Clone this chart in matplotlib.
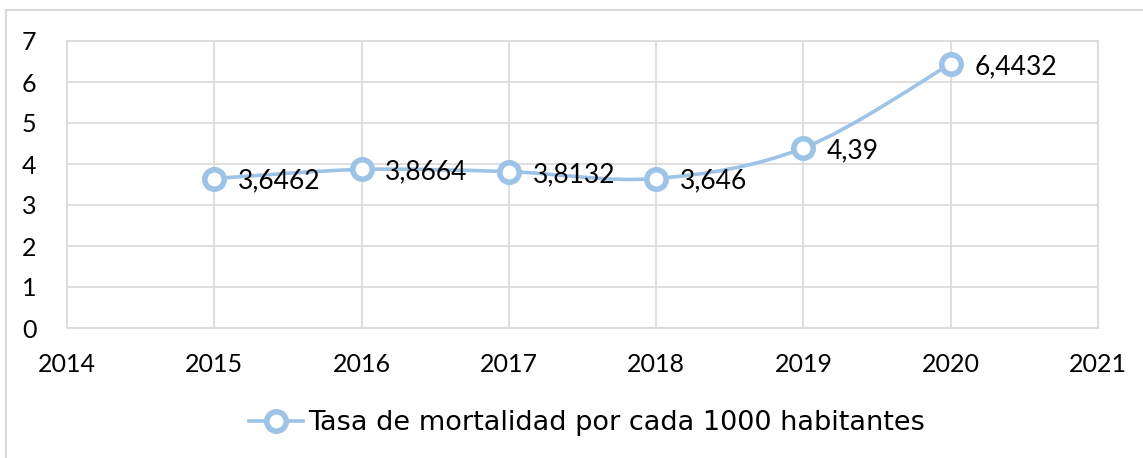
import matplotlib.pyplot as plt
from matplotlib.path import Path
from matplotlib.patches import PathPatch, Rectangle
from matplotlib.lines import Line2D

years = [2015, 2016, 2017, 2018, 2019, 2020]
tasa = [3.6462, 3.8664, 3.8132, 3.646, 4.39, 6.4432]
labels = ["3,6462", "3,8664", "3,8132", "3,646", "4,39", "6,4432"]
serie = "Tasa de mortalidad por cada 1000 habitantes"

azul = "#9DC3E6"
gris = "#D9D9D9"
plt.rcParams['font.family'] = ['Lato', 'DejaVu Sans']


def smooth_path(xs, ys):
    # curva suavizada tipo Excel (Catmull-Rom -> Bezier)
    pts = list(zip(xs, ys))
    verts = [pts[0]]
    codes = [Path.MOVETO]
    n = len(pts)
    for i in range(n - 1):
        p0 = pts[i - 1] if i > 0 else pts[i]
        p1 = pts[i]
        p2 = pts[i + 1]
        p3 = pts[i + 2] if i + 2 < n else pts[i + 1]
        c1 = (p1[0] + (p2[0] - p0[0]) / 6, p1[1] + (p2[1] - p0[1]) / 6)
        c2 = (p2[0] - (p3[0] - p1[0]) / 6, p2[1] - (p3[1] - p1[1]) / 6)
        verts += [c1, c2, p2]
        codes += [Path.CURVE4] * 3
    return Path(verts, codes)


fig = plt.figure(figsize=(11.43, 4.58), dpi=100)
fig.patches.append(Rectangle((6 / 1143, -0.1), 1.2, 1 - 10 / 458 + 0.1,
                             transform=fig.transFigure, fill=False,
                             edgecolor=gris, lw=1.5))
ax = fig.add_axes([67 / 1143, 1 - 328 / 458, 1031 / 1143, 287 / 458])

ax.add_patch(PathPatch(smooth_path(years, tasa), fill=False,
                       edgecolor=azul, lw=2.6, zorder=3))
ax.plot(years, tasa, linestyle='none', marker='o', markersize=14,
        markerfacecolor='white', markeredgecolor=azul, markeredgewidth=4,
        zorder=4)

for x, y, t in zip(years, tasa, labels):
    ax.annotate(t, (x, y), xytext=(17, -2), textcoords='offset points',
                ha='left', va='center', fontsize=19, color='black')

ax.set_xlim(2014, 2021)
ax.set_ylim(0, 7)
ax.set_xticks(range(2014, 2022))
ax.set_yticks(range(0, 8))
ax.grid(True, color=gris, lw=1.2)
ax.set_axisbelow(True)
for s in ax.spines.values():
    s.set_color(gris)
    s.set_linewidth(1.2)
ax.tick_params(length=0, labelsize=18, colors='black')
ax.tick_params(axis='x', pad=18)
ax.tick_params(axis='y', pad=22)

h = Line2D([], [], color=azul, lw=2.6, marker='o', markersize=14,
           markerfacecolor='white', markeredgecolor=azul, markeredgewidth=4)
fig.legend([h], [serie], loc='center', bbox_to_anchor=(587 / 1143, 1 - 423 / 458),
           frameon=False, prop={'family': ['DejaVu Sans'], 'size': 19.5},
           handlelength=2.0, handletextpad=0.2)

fig.savefig("out.png", dpi=100)
